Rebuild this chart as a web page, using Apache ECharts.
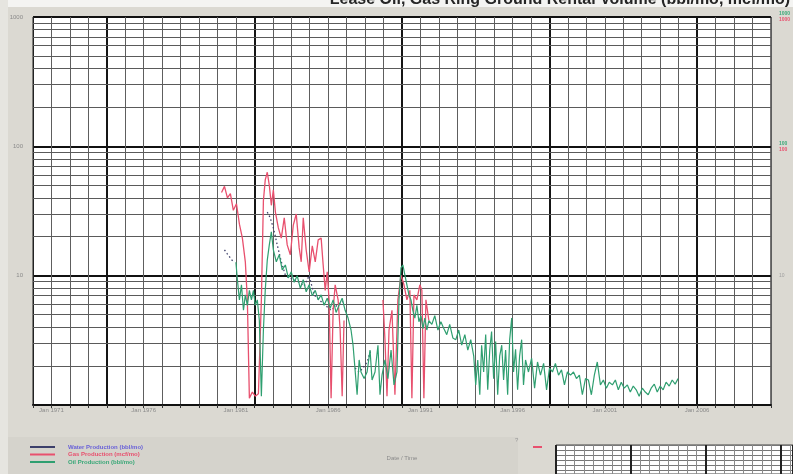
<!DOCTYPE html>
<html>
<head>
<meta charset="utf-8">
<script src="https://cdn.jsdelivr.net/npm/echarts@6/dist/echarts.min.js"></script>
<style>
  html, body { margin: 0; padding: 0; background: #dbd9d2; }
  #chart { width: 793px; height: 474px; }
</style>
</head>
<body>
<div id="chart"></div>
<script>
// ---- chart text ----
const titleText = 'Lease Oil, Gas Ring Ground Rental Volume (bbl/mo, mcf/mo)';
const seriesNames = ['Water Production (bbl/mo)', 'Gas Production (mcf/mo)', 'Oil Production (bbl/mo)'];
const xAxisTitle = 'Date / Time';

// ---- axis ranges and tick positions (decimal years, log volumes) ----
const yearMin = 1970;
const yearMax = 2010;
const labelYears = [1971, 1976, 1981, 1986, 1991, 1996, 2001, 2006];
const heavyYears = [1974, 1982, 1990, 1998, 2006];
const volMin = 1;
const volMax = 1000;
const minorVolumes = [2, 3, 4, 5, 6, 7, 8, 9, 20, 30, 40, 50, 60, 70, 80, 90, 200, 300, 400, 500, 600, 700, 800, 900];

// ---- production history: [years after recordStart, monthly volume] ----
const recordStart = 1970;

const waterData = [
  [10.38, 15.8], [10.54, 14.7], [10.70, 13.7], [10.86, 12.8], null,
  [12.70, 31], [12.86, 28], [13.03, 23.4], [13.24, 17.3], [13.46, 12.8], [13.68, 10.1],
  [13.89, 9.6], [14.16, 9.3], [14.43, 8.9], [14.70, 8.3], [14.97, 10], [15.24, 7.1],
  [15.51, 6.5], [15.84, 5.9], [16.16, 5.4], [16.49, 5.9], [16.81, 6.3], null,
  [17.46, 1.93], [17.68, 1.8], [17.89, 1.93], [18.11, 2.15], [18.32, 2.66]
];

const gasData = [
  [10.22, 44], [10.38, 49], [10.54, 40], [10.70, 43], [10.86, 32], [11.03, 36], [11.19, 25],
  [11.35, 19.5], [11.51, 12.8], [11.62, 6.5], [11.73, 1.13], [11.89, 1.26], [12.05, 1.17],
  [12.22, 1.22], [12.38, 6.5], [12.49, 38], [12.59, 55], [12.70, 63], [12.81, 50], [12.92, 35],
  [13.03, 46], [13.14, 31], [13.30, 23.4], [13.46, 19.5], [13.62, 28], [13.78, 17.3],
  [13.95, 14.5], [14.11, 24.6], [14.27, 30], [14.43, 16.4], [14.54, 12.8], [14.65, 28],
  [14.81, 15.8], [14.97, 10.7], [15.14, 17], [15.30, 12.8], [15.46, 18.9], [15.62, 19.5],
  [15.73, 12.1], [15.84, 7.7], [15.95, 10.7], [16.05, 6.5], [16.16, 1.13], [16.27, 5.4],
  [16.38, 8.5], [16.54, 6.5], [16.65, 3.8], [16.76, 1.17], [16.86, 4.5], null,
  [18.97, 6.5], [19.08, 3.2], [19.19, 1.17], [19.30, 3.8], [19.46, 5.4], [19.62, 1.2],
  [19.78, 6.5], [19.95, 10.1], [20.11, 8.5], [20.27, 6.5], [20.43, 7.7], [20.54, 1.13],
  [20.65, 7.1], [20.81, 6.5], [20.97, 8.5], [21.08, 7.7], [21.19, 1.13], [21.30, 6.5], [21.46, 4.5]
];

const oilData = [
  [11.00, 12.7], [11.08, 9.3], [11.19, 6.5], [11.30, 8.5], [11.41, 5.4], [11.51, 7.1], [11.62, 5.9],
  [11.73, 7.7], [11.84, 6.5], [11.95, 7.7], [12.05, 5.9], [12.16, 6.5], [12.27, 4.5], [12.38, 1.17],
  [12.49, 3.8], [12.59, 7.7], [12.70, 13.2], [12.81, 17.3], [12.92, 21.8], [13.03, 15.8],
  [13.19, 12.8], [13.35, 14.5], [13.51, 11.1], [13.68, 12.1], [13.84, 9.6], [14.00, 10.7],
  [14.16, 8.9], [14.32, 10], [14.49, 8], [14.65, 9.3], [14.81, 7.5], [14.97, 8.5], [15.14, 7],
  [15.30, 7.7], [15.46, 6.5], [15.62, 7.1], [15.78, 5.9], [15.95, 6.7], [16.11, 5.6], [16.27, 6.5],
  [16.43, 5.2], [16.59, 5.9], [16.76, 6.7], [16.92, 5.4], [17.08, 4.7], [17.24, 3.8], [17.35, 2.9],
  [17.46, 1.87], [17.57, 1.2], [17.68, 2.23], [17.78, 1.8], [17.95, 1.6], [18.11, 1.8], [18.27, 2.66],
  [18.38, 1.56], [18.54, 1.8], [18.70, 2.9], [18.81, 1.2], [18.92, 1.7], [19.08, 2.23], [19.24, 1.6],
  [19.41, 2.66], [19.57, 1.43], [19.73, 1.8], [19.84, 6.5], [19.95, 11.5], [20.05, 12.1], [20.16, 10.1],
  [20.27, 8.5], [20.38, 7.1], [20.49, 6.5], [20.59, 5.4], [20.70, 4.7], [20.81, 5.9], [20.92, 4.4],
  [21.03, 4.9], [21.14, 3.9], [21.24, 4.7], [21.35, 3.8], [21.46, 4.5], [21.62, 4.2], [21.78, 4.9],
  [21.95, 3.8], [22.11, 4.4], [22.27, 3.9], [22.43, 3.5], [22.59, 4.2], [22.76, 3.3], [22.92, 3.2],
  [23.08, 3.8], [23.24, 2.9], [23.41, 3.5], [23.57, 2.66], [23.73, 3.2], [23.89, 2.4], [24.00, 1.43],
  [24.11, 2.23], [24.22, 1.2], [24.32, 2.9], [24.43, 1.8], [24.54, 3.5], [24.65, 1.31], [24.76, 2.66],
  [24.86, 3.7], [24.97, 1.6], [25.08, 3.1], [25.19, 1.2], [25.30, 2.4], [25.41, 2.9], [25.51, 1.56],
  [25.62, 2.66], [25.73, 1.2], [25.84, 3.2], [25.95, 4.7], [26.05, 1.8], [26.16, 2.7], [26.27, 1.31],
  [26.38, 2.4], [26.49, 3.2], [26.59, 1.43], [26.70, 2.23], [26.86, 1.8], [27.03, 2.3], [27.19, 1.35],
  [27.35, 2.15], [27.51, 1.7], [27.68, 2.1], [27.84, 1.31], [28.00, 1.93], [28.16, 1.8], [28.32, 2.1],
  [28.49, 1.7], [28.65, 1.87], [28.81, 1.43], [28.97, 1.8], [29.14, 1.7], [29.30, 1.8], [29.46, 1.6],
  [29.62, 1.7], [29.78, 1.2], [29.95, 1.6], [30.11, 1.56], [30.27, 1.2], [30.43, 1.7], [30.59, 2.15],
  [30.76, 1.43], [30.92, 1.56], [31.08, 1.35], [31.24, 1.5], [31.41, 1.43], [31.57, 1.56], [31.73, 1.31],
  [31.89, 1.5], [32.05, 1.35], [32.22, 1.43], [32.38, 1.26], [32.54, 1.4], [32.70, 1.31], [32.86, 1.17],
  [33.03, 1.35], [33.19, 1.26], [33.35, 1.2], [33.51, 1.35], [33.68, 1.45], [33.84, 1.26], [34.00, 1.4],
  [34.16, 1.31], [34.32, 1.5], [34.49, 1.4], [34.65, 1.56], [34.81, 1.45], [34.97, 1.6]
];

const toYears = arr => arr.map(p => (p ? [recordStart + p[0], p[1]] : [null, null]));

// ---- small reference grid (bottom right) ----
const thumbMaxX = 25.3;
const thumbMaxY = 5.7;

const chart = echarts.init(document.getElementById('chart'), null, { renderer: 'canvas' });

const smallFont = { fontFamily: 'Liberation Sans, Arial, sans-serif', fontSize: 6, color: '#8a8a8a' };

const gridLines = [];
heavyYears.forEach(y => gridLines.push({ xAxis: y, lineStyle: { color: '#151515', width: 2, type: 'solid' } }));
minorVolumes.forEach(v => gridLines.push({ yAxis: v, lineStyle: { color: '#5a5a5a', width: 1, type: 'solid' } }));

const legendKeys = ['w', 'g', 'o'];

chart.setOption({
  animation: false,
  backgroundColor: '#dbd9d2',
  title: {
    text: titleText,
    right: 3,
    top: -8,
    padding: 0,
    textStyle: { fontFamily: 'Liberation Sans, Arial, sans-serif', fontSize: 16, fontWeight: 'bold', color: '#262626' }
  },
  graphic: [
    { type: 'rect', shape: { x: 0, y: 0, width: 793, height: 7 }, style: { fill: '#f4f4f2' }, z: -10 },
    { type: 'rect', shape: { x: 0, y: 0, width: 8, height: 474 }, style: { fill: '#e6e5e0' }, z: -10 },
    { type: 'rect', shape: { x: 8, y: 437, width: 510, height: 37 }, style: { fill: '#d5d3cc' }, z: -10 },
    { type: 'rect', shape: { x: 533, y: 446, width: 9, height: 2 }, style: { fill: '#e8506e' }, z: 5 },
    { type: 'text', x: 515, y: 437, style: { text: '?', fontSize: 6, fill: '#999' }, z: 5 }
  ],
  legend: {
    data: seriesNames,
    orient: 'vertical',
    left: 30,
    top: 444,
    padding: 0,
    itemWidth: 25,
    itemHeight: 2,
    itemGap: 1.5,
    icon: 'rect',
    formatter: n => '{' + legendKeys[seriesNames.indexOf(n)] + '|' + n + '}',
    textStyle: {
      fontFamily: 'Liberation Sans, Arial, sans-serif',
      fontSize: 6,
      lineHeight: 6,
      padding: [0, 0, 0, 8],
      rich: {
        w: { color: '#6a62d8', fontSize: 6, lineHeight: 6, fontWeight: 'bold' },
        g: { color: '#e8506e', fontSize: 6, lineHeight: 6, fontWeight: 'bold' },
        o: { color: '#3aa878', fontSize: 6, lineHeight: 6, fontWeight: 'bold' }
      }
    }
  },
  grid: [
    { left: 33, right: 20, top: 17, bottom: 69, show: true, backgroundColor: '#ffffff', borderColor: '#222', borderWidth: 1 },
    { left: 556, top: 445, width: 237, height: 40, show: true, backgroundColor: '#ffffff', borderColor: '#444', borderWidth: 1 }
  ],
  xAxis: [
    {
      type: 'value', gridIndex: 0, min: yearMin, max: yearMax, interval: 1,
      name: xAxisTitle, nameLocation: 'middle', nameGap: 50,
      nameTextStyle: smallFont,
      axisLine: { show: true, lineStyle: { color: '#111', width: 2 } },
      axisTick: { show: true, length: 3, lineStyle: { color: '#333' } },
      axisLabel: {
        ...smallFont, margin: 2,
        formatter: v => (labelYears.indexOf(v) >= 0 ? 'Jan ' + v : '')
      },
      splitLine: { show: true, lineStyle: { color: '#5e5e5e', width: 1 } }
    },
    {
      type: 'value', gridIndex: 1, min: 0, max: thumbMaxX, interval: 1,
      axisLine: { show: false }, axisTick: { show: false }, axisLabel: { show: false },
      splitLine: { show: true, lineStyle: { color: '#8a8a8a', width: 1 } }
    },
    {
      type: 'value', gridIndex: 1, min: 0, max: thumbMaxX, interval: 8,
      axisLine: { show: false }, axisTick: { show: false }, axisLabel: { show: false },
      splitLine: { show: true, lineStyle: { color: '#222', width: 2 } }
    }
  ],
  yAxis: [
    {
      type: 'log', gridIndex: 0, min: volMin, max: volMax, logBase: 10,
      axisLine: { show: true, lineStyle: { color: '#222', width: 1 } },
      axisTick: { show: false },
      axisLabel: { ...smallFont, margin: 10, formatter: v => (v === volMin ? '' : String(v)) },
      splitLine: { show: true, lineStyle: { color: '#111', width: 2 } }
    },
    {
      type: 'log', gridIndex: 0, min: volMin, max: volMax, logBase: 10, position: 'right',
      axisLine: { show: false }, axisTick: { show: false },
      splitLine: { show: false },
      axisLabel: {
        margin: 8, fontSize: 5, lineHeight: 6,
        formatter: v => (v === volMin ? '' : (v === 10 ? '{k|' + v + '}' : '{g|' + v + '}\n{r|' + v + '}')),
        rich: {
          g: { color: '#3aa878', fontSize: 5, fontWeight: 'bold' },
          r: { color: '#e8506e', fontSize: 5, fontWeight: 'bold' },
          k: { color: '#a0a0a0', fontSize: 5 }
        }
      }
    },
    {
      type: 'value', gridIndex: 1, min: 0, max: thumbMaxY, interval: 1, inverse: true,
      axisLine: { show: false }, axisTick: { show: false }, axisLabel: { show: false },
      splitLine: { show: true, lineStyle: { color: '#777', width: 1 } }
    }
  ],
  series: [
    {
      name: seriesNames[0], type: 'line', xAxisIndex: 0, yAxisIndex: 0,
      data: toYears(waterData), showSymbol: false, connectNulls: false,
      color: '#3c3f6a',
      lineStyle: { color: '#3c3f6a', width: 1.3, type: [1.5, 2.5] },
      z: 3,
      markLine: { silent: true, symbol: 'none', label: { show: false }, data: gridLines, z: 1 }
    },
    {
      name: seriesNames[1], type: 'line', xAxisIndex: 0, yAxisIndex: 0,
      data: toYears(gasData), showSymbol: false, connectNulls: false,
      color: '#e8506e',
      lineStyle: { color: '#e8506e', width: 1.3 },
      z: 4
    },
    {
      name: seriesNames[2], type: 'line', xAxisIndex: 0, yAxisIndex: 0,
      data: toYears(oilData), showSymbol: false, connectNulls: false,
      color: '#2f9f70',
      lineStyle: { color: '#2f9f70', width: 1.2 },
      z: 5
    }
  ]
});
</script>
</body>
</html>
